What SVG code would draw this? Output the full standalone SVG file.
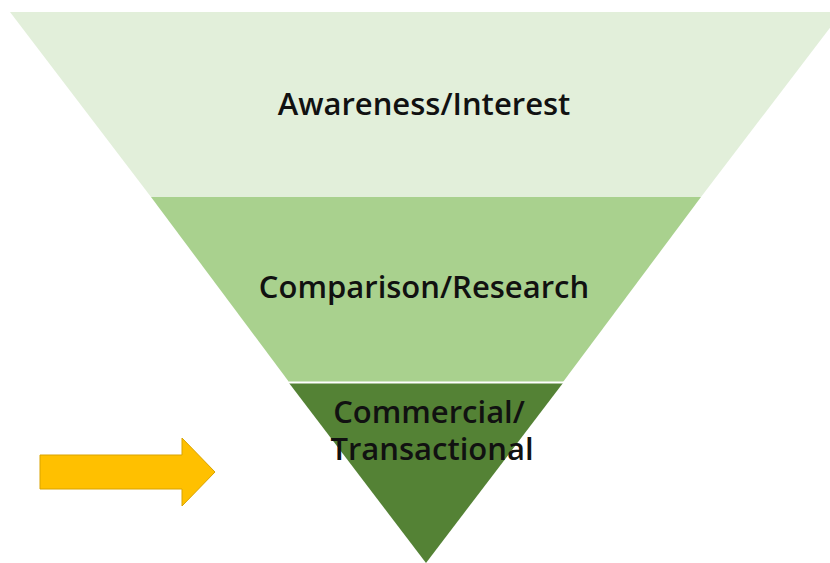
<svg xmlns="http://www.w3.org/2000/svg" width="830" height="563" viewBox="0 0 830 563">
  <style>
    .label { font-family: "Open Sans", "Noto Sans", "DejaVu Sans", sans-serif; font-weight: 600; font-size: 31px; fill: #111111; text-anchor: middle; }
    .sep { stroke: #ffffff; stroke-width: 2; }
  </style>
  <rect width="830" height="563" fill="#ffffff"/>
  <!-- funnel tiers -->
  <g id="tier-awareness">
    <polygon points="10,12 842,12 701,197 151,197" fill="#e2efda"/>
    <text class="label" x="424" y="115">Awareness/Interest</text>
  </g>
  <g id="tier-comparison">
    <polygon points="151,197 701,197 563,382 289,382" fill="#a9d18e"/>
    <text class="label" x="424" y="298">Comparison/Research</text>
  </g>
  <g id="tier-commercial">
    <polygon points="289,383 563,383 426,563" fill="#548235"/>
    <text class="label" x="429" y="423">Commercial/</text>
    <text class="label" x="432" y="460">Transactional</text>
  </g>
  <line class="sep" x1="289" y1="382.5" x2="564" y2="382.5"/>
  <!-- pointer arrow -->
  <g id="pointer-arrow">
    <polygon points="40,455 182,455 182,438 215,472 182,506 182,489 40,489" fill="#ffc000" stroke="#d9a300" stroke-width="1"/>
  </g>
</svg>
